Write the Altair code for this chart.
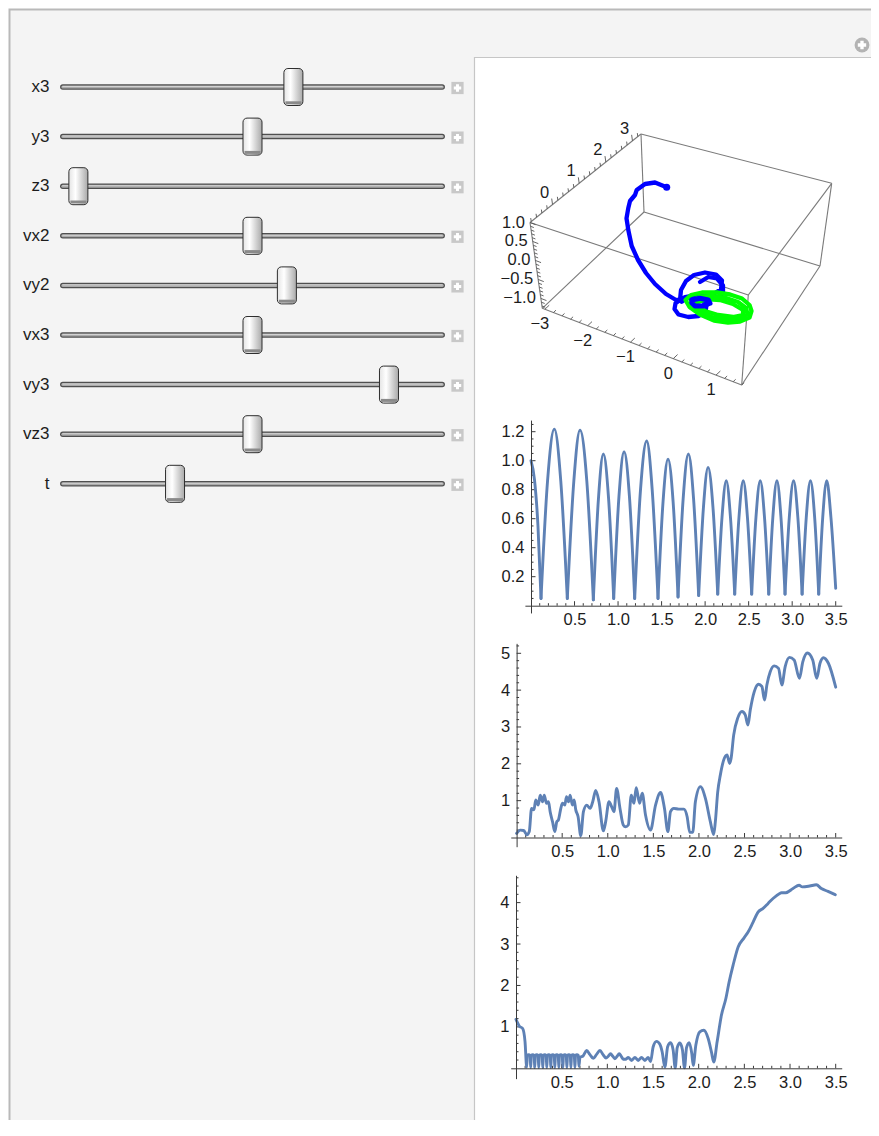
import altair as alt
import pandas as pd

W, H = 863, 1112
M = 8
FONT = "Liberation Sans"
INK = "#1c1c1c"
AXIS_C = "#3a3a3a"
LINE_C = "#5e81b5"

# ---------------- slider panel ----------------
slider_names = ["x3", "y3", "z3", "vx2", "vy2", "vx3", "vy3", "vz3", "t"]
slider_values = [0.613, 0.50, 0.019, 0.50, 0.595, 0.50, 0.877, 0.50, 0.286]

# ---------------- 3-D view (projected positions) ----------------
box_corner_names = ["A", "B", "C", "D", "A2", "B2", "C2", "D2"]
box_corner_u = [50.0, 161.0, 351.7, 268.3, 62.3, 164.0, 340.0, 261.7]
box_corner_v = [112.5, 24.0, 73.3, 185.0, 198.3, 102.0, 156.0, 275.0]
box_edges = [("A", "B"), ("B", "C"), ("C", "D"), ("D", "A"),
             ("A2", "B2"), ("B2", "C2"), ("C2", "D2"), ("D2", "A2"),
             ("A", "A2"), ("B", "B2"), ("C", "C2"), ("D", "D2")]

x3d_span = [-3.06, 1.6]
y3d_span = [-0.846, 3.32]
z3d_span = [1.0, -1.26]
x3d_major = [-3, -2, -1, 0, 1]
y3d_major = [0, 1, 2, 3]
z3d_major = [1.0, 0.5, 0.0, -0.5, -1.0]
x3d_labels = ["\u22123", "\u22122", "\u22121", "0", "1"]
y3d_labels = ["0", "1", "2", "3"]
z3d_labels = ["1.0", "0.5", "0.0", "\u22120.5", "\u22121.0"]

blue_path_u = [186.7, 175.0, 165.0, 156.7, 155.0, 150.0, 148.3, 146.5, 148.3, 151.7, 158.0, 166.0, 175.0, 186.0, 196.0, 200.0]
blue_path_v = [77.3, 72.5, 74.0, 80.0, 85.0, 91.0, 98.0, 108.3, 120.0, 136.0, 150.0, 163.0, 174.0, 184.0, 190.0, 190.0]
blue_loop1_u = [200.0, 201.0, 206.0, 214.0, 225.0, 236.0, 242.0, 241.0, 233.3, 223.3, 213.3, 205.0, 200.0]
blue_loop1_v = [190.0, 180.0, 171.0, 165.0, 162.5, 164.5, 170.5, 179.3, 184.0, 185.5, 185.5, 187.0, 190.0]
blue_loop2_u = [220.0, 228.3, 237.0, 243.0, 243.0, 237.0, 228.3, 220.0]
blue_loop2_v = [172.0, 167.0, 168.5, 175.5, 183.3, 188.0, 189.0, 187.0]
blue_loop3_u = [200.0, 195.5, 194.5, 198.5, 208.3, 218.3, 225.5, 226.5, 221.7, 215.0, 206.7, 201.7]
blue_loop3_v = [190.0, 193.3, 199.0, 204.5, 207.0, 206.0, 202.0, 195.0, 190.0, 187.3, 188.3, 191.7]
blue_blob_u = [211.7, 220.0, 228.3, 230.0, 223.3, 215.0, 211.7]
blue_blob_v = [190.0, 188.3, 190.0, 193.3, 196.0, 196.0, 192.7]

green_ring1_u = [205.5, 211.0, 222.0, 236.7, 250.0, 262.0, 269.5, 271.5, 269.5, 260.0, 248.0, 234.0, 220.0, 209.5, 205.5]
green_ring1_v = [190.0, 185.0, 182.5, 182.5, 184.5, 188.5, 195.0, 201.0, 207.5, 211.5, 212.5, 210.5, 204.5, 197.0, 190.0]
green_ring2_u = [211.0, 220.0, 232.0, 246.0, 258.0, 266.0, 267.5, 260.0, 247.0, 233.0, 220.0, 212.5, 211.0]
green_ring2_v = [191.0, 187.0, 186.0, 188.0, 192.0, 198.0, 204.0, 208.5, 209.5, 207.5, 202.5, 196.5, 191.0]
green_ring3_u = [216.0, 226.0, 240.0, 253.0, 263.0, 263.0, 253.0, 238.0, 225.0, 217.0, 216.0]
green_ring3_v = [193.0, 189.0, 190.0, 194.0, 200.0, 205.0, 207.0, 205.0, 201.0, 197.0, 193.0]

# ---------------- 2-D plots ----------------
chart1_arc_x = [
    [0.0, 0.04, 0.08, 0.115],
    [0.115, 0.19, 0.268, 0.342, 0.417],
    [0.417, 0.492, 0.563, 0.641, 0.716],
    [0.716, 0.775, 0.831, 0.891, 0.950],
    [0.950, 1.010, 1.069, 1.131, 1.191],
    [1.191, 1.258, 1.329, 1.392, 1.459],
    [1.459, 1.517, 1.574, 1.632, 1.689],
    [1.689, 1.748, 1.808, 1.867, 1.926],
    [1.926, 1.981, 2.034, 2.090, 2.145],
    [2.145, 2.194, 2.243, 2.291, 2.340],
    [2.340, 2.389, 2.438, 2.486, 2.535],
    [2.535, 2.584, 2.633, 2.682, 2.731],
    [2.731, 2.778, 2.825, 2.871, 2.918],
    [2.918, 2.967, 3.016, 3.065, 3.114],
    [3.114, 3.162, 3.210, 3.258, 3.305],
    [3.305, 3.351, 3.397, 3.445, 3.500],
]
chart1_arc_y = [
    [1.0, 0.87, 0.55, 0.05],
    [0.05, 0.86, 1.218, 0.86, 0.05],
    [0.05, 0.86, 1.211, 0.86, 0.04],
    [0.04, 0.74, 1.046, 0.74, 0.05],
    [0.05, 0.75, 1.062, 0.75, 0.05],
    [0.05, 0.80, 1.136, 0.80, 0.05],
    [0.05, 0.72, 1.011, 0.72, 0.06],
    [0.06, 0.74, 1.046, 0.74, 0.07],
    [0.07, 0.68, 0.954, 0.68, 0.08],
    [0.08, 0.61, 0.862, 0.61, 0.08],
    [0.08, 0.61, 0.862, 0.61, 0.08],
    [0.08, 0.61, 0.862, 0.61, 0.08],
    [0.08, 0.61, 0.862, 0.61, 0.08],
    [0.08, 0.61, 0.862, 0.61, 0.08],
    [0.08, 0.61, 0.862, 0.61, 0.08],
    [0.08, 0.61, 0.862, 0.61, 0.12],
]

chart2_x = [0.0, 0.04, 0.077, 0.113, 0.139, 0.164, 0.19, 0.21, 0.237, 0.259, 0.284, 0.303, 0.328, 0.35,
            0.368, 0.394, 0.419, 0.441, 0.459, 0.485, 0.503, 0.529, 0.547, 0.569, 0.587, 0.612, 0.631,
            0.649, 0.674, 0.704, 0.733, 0.769, 0.806, 0.835, 0.868, 0.904, 0.952, 0.977, 1.013, 1.05,
            1.068, 1.097, 1.134, 1.17, 1.196, 1.225, 1.258, 1.287, 1.312, 1.349, 1.378, 1.414, 1.469,
            1.524, 1.579, 1.622, 1.659, 1.688, 1.724, 1.779, 1.834, 1.87, 1.899, 1.932, 1.961, 2.016,
            2.071, 2.125, 2.162, 2.18, 2.206, 2.235, 2.271, 2.308, 2.337, 2.352, 2.381, 2.425, 2.472,
            2.508, 2.537, 2.563, 2.607, 2.654, 2.69, 2.72, 2.745, 2.782, 2.825, 2.873, 2.909, 2.946,
            2.993, 3.044, 3.102, 3.139, 3.19, 3.248, 3.292, 3.328, 3.365, 3.42, 3.5]
chart2_y = [0.11, 0.20, 0.19, 0.07, 0.16, 0.79, 0.75, 1.02, 0.88, 1.15, 0.97, 1.15, 0.93, 0.97,
            0.70, 0.43, 0.16, 0.43, 0.48, 0.79, 0.93, 0.88, 1.11, 0.97, 1.15, 0.88, 1.02,
            0.75, 0.57, 0.05, 0.70, 0.88, 0.79, 0.97, 1.28, 0.97, 0.18, 0.43, 0.97, 0.79,
            0.70, 1.33, 0.79, 0.34, 0.29, 0.34, 1.15, 0.93, 1.35, 0.93, 1.20, 0.61, 0.20,
            0.88, 1.22, 0.79, 0.16, 0.70, 0.79, 0.77, 0.77, 0.57, 0.14, 0.14, 0.97, 1.38,
            1.06, 0.43, 0.08, 0.43, 1.24, 1.70, 2.10, 2.24, 2.01, 2.14, 2.78, 3.24, 3.42,
            3.33, 3.05, 3.46, 3.96, 4.16, 4.10, 3.73, 4.14, 4.50, 4.66, 4.59, 4.14, 4.64,
            4.89, 4.82, 4.32, 4.77, 5.01, 4.82, 4.32, 4.73, 4.88, 4.73, 4.08]

chart3_x = [0.0, 0.036, 0.073, 0.099, 0.117,
            0.124, 0.139, 0.154, 0.161, 0.168, 0.183, 0.198, 0.205, 0.212, 0.227, 0.242, 0.249,
            0.256, 0.271, 0.286, 0.293, 0.300, 0.315, 0.330, 0.337, 0.344, 0.359, 0.374, 0.381,
            0.388, 0.403, 0.418, 0.425, 0.432, 0.447, 0.462, 0.469, 0.476, 0.491, 0.506, 0.513,
            0.520, 0.535, 0.550, 0.557, 0.564, 0.579, 0.594, 0.601, 0.608, 0.623, 0.638, 0.645,
            0.652, 0.667, 0.682, 0.689,
            0.70, 0.735, 0.773, 0.81, 0.846, 0.88, 0.919, 0.953, 0.985, 1.01, 1.035, 1.06, 1.083,
            1.107, 1.13, 1.152, 1.174, 1.2, 1.229, 1.265, 1.302, 1.338, 1.374, 1.411, 1.447, 1.473,
            1.502, 1.538, 1.575, 1.6, 1.63, 1.66, 1.692, 1.72, 1.743, 1.765, 1.794, 1.822, 1.845,
            1.867, 1.896, 1.925, 1.94, 1.969, 2.012, 2.056, 2.104, 2.14, 2.165, 2.202, 2.249, 2.297,
            2.333, 2.377, 2.432, 2.497, 2.541, 2.596, 2.65, 2.705, 2.76, 2.814, 2.887, 2.906, 2.953,
            3.033, 3.099, 3.135, 3.215, 3.288, 3.343, 3.416, 3.496]
chart3_y = [1.18, 1.02, 0.96, 0.64, 0.03,
            0.31, 0.33, 0.31, 0.02, 0.31, 0.33, 0.31, 0.02, 0.31, 0.33, 0.31, 0.02,
            0.31, 0.33, 0.31, 0.02, 0.31, 0.33, 0.31, 0.02, 0.31, 0.33, 0.31, 0.02,
            0.31, 0.33, 0.31, 0.02, 0.31, 0.33, 0.31, 0.02, 0.31, 0.33, 0.31, 0.02,
            0.31, 0.33, 0.31, 0.02, 0.31, 0.33, 0.31, 0.02, 0.31, 0.33, 0.31, 0.02,
            0.31, 0.33, 0.31, 0.05,
            0.26, 0.30, 0.43, 0.33, 0.24, 0.33, 0.43, 0.33, 0.25, 0.29, 0.35, 0.29, 0.23,
            0.29, 0.35, 0.29, 0.22, 0.22, 0.26, 0.19, 0.26, 0.19, 0.26, 0.19, 0.26, 0.16,
            0.52, 0.65, 0.58, 0.40, 0.03, 0.52, 0.62, 0.45, 0.01, 0.50, 0.61, 0.45, 0.01,
            0.50, 0.62, 0.35, 0.07, 0.56, 0.88, 0.92, 0.72, 0.39, 0.15, 0.64, 1.28, 1.68,
            2.08, 2.49, 2.93, 3.15, 3.29, 3.53, 3.77, 3.86, 3.98, 4.10, 4.22, 4.24, 4.24,
            4.34, 4.42, 4.38, 4.40, 4.43, 4.34, 4.27, 4.19]


# ---------------- helpers ----------------
def px(p):
    return p - M


def qscale(dom, rng):
    return alt.Scale(domain=[float(d) for d in dom], range=[float(r) for r in rng], nice=False, zero=False)


def QX(field, sc, axis=None):
    return alt.X(field, type="quantitative", scale=sc, axis=axis, title=None)


def QY(field, sc, axis=None):
    return alt.Y(field, type="quantitative", scale=sc, axis=axis, title=None)


layers = []
one = pd.DataFrame({"k": [0]})

# ---------------- panels ----------------
layers.append(alt.Chart(one).mark_rect(fill="#f4f4f4", stroke="#b9b9b9", strokeWidth=2).encode(
    x=alt.value(px(9.5)), x2=alt.value(W + 20), y=alt.value(px(9.5)), y2=alt.value(H + 20)))
layers.append(alt.Chart(one).mark_rect(fill="#ffffff", stroke="#c6c6c6", strokeWidth=1.2).encode(
    x=alt.value(px(474.5)), x2=alt.value(W + 20), y=alt.value(px(57.5)), y2=alt.value(H + 20)))

# corner "+" icon
layers.append(alt.Chart(one).mark_circle(size=220, color="#b3b3b3", opacity=1).encode(
    x=alt.value(px(862)), y=alt.value(px(45))))
layers.append(alt.Chart(one).mark_point(shape="cross", filled=True, size=70, color="#ffffff", opacity=1).encode(
    x=alt.value(px(862)), y=alt.value(px(45))))

# ---------------- sliders ----------------
sdf = pd.DataFrame({"name": slider_names, "value": slider_values,
                    "row": list(range(len(slider_names))), "lo": -0.024, "hi": 1.024})
SX = qscale([0, 1], [px(71.5), px(433.5)])
SY = qscale([0, 8], [px(87), px(87 + 49.6 * 8)])

layers.append(alt.Chart(sdf).mark_rule(color="#4f4f4f", strokeWidth=5.5, strokeCap="round").encode(
    x=QX("lo", SX), x2="hi", y=QY("row", SY)))
layers.append(alt.Chart(sdf).mark_rule(color="#ababab", strokeWidth=3, strokeCap="round").encode(
    x=QX("lo", SX), x2="hi", y=QY("row", SY)))
layers.append(alt.Chart(sdf).mark_rule(color="#d2d2d2", strokeWidth=1, strokeCap="round", yOffset=-0.5).encode(
    x=QX("lo", SX), x2="hi", y=QY("row", SY)))

thumb_fill = alt.LinearGradient(
    gradient="linear", x1=0, x2=1, y1=0, y2=0,
    stops=[alt.GradientStop(offset=0, color="#e4e4e4"),
           alt.GradientStop(offset=0.35, color="#ffffff"),
           alt.GradientStop(offset=1, color="#a9a9a9")])
layers.append(alt.Chart(sdf).mark_rect(
    xOffset=-9.5, x2Offset=9.5, yOffset=-18.5, y2Offset=18.5, cornerRadius=4,
    fill=thumb_fill, stroke="#2e2e2e", strokeWidth=1).encode(
    x=QX("value", SX), x2="value", y=QY("row", SY), y2="row"))
layers.append(alt.Chart(sdf).mark_rule(color="#8a8a8a", strokeWidth=3, xOffset=-8, x2Offset=8,
                                       yOffset=15.8, y2Offset=15.8).encode(
    x=QX("value", SX), x2="value", y=QY("row", SY)))

layers.append(alt.Chart(sdf).mark_text(align="right", baseline="middle", font=FONT, fontSize=17,
                                       color=INK).encode(
    x=alt.value(px(49.5)), y=QY("row", SY), text="name:N"))
layers.append(alt.Chart(sdf).mark_square(size=150, color="#c8c8c8", opacity=1, yOffset=1).encode(
    x=alt.value(px(457.5)), y=QY("row", SY)))
layers.append(alt.Chart(sdf).mark_point(shape="cross", filled=True, size=55, color="#ffffff", opacity=1,
                                        yOffset=1).encode(
    x=alt.value(px(457.5)), y=QY("row", SY)))

# ---------------- 3-D view ----------------
PX3 = qscale([0, 380], [px(480), px(860)])
PY3 = qscale([0, 300], [px(110), px(410)])
corner = {n: (u, v) for n, u, v in zip(box_corner_names, box_corner_u, box_corner_v)}

edge_df = pd.DataFrame([{"u": corner[a][0], "v": corner[a][1], "u2": corner[b][0], "v2": corner[b][1]}
                        for a, b in box_edges])
layers.append(alt.Chart(edge_df).mark_rule(color="#7a7a7a", strokeWidth=1.1).encode(
    x=QX("u", PX3), y=QY("v", PY3), x2="u2", y2="v2"))


def lerp(p, q, t):
    return (p[0] + t * (q[0] - p[0]), p[1] + t * (q[1] - p[1]))


def minor_vals(start, step, n, majors):
    out = []
    for k in range(n):
        v = round(start + step * k, 3)
        if all(abs(v - m) > 1e-6 for m in majors):
            out.append(v)
    return out


axes3d = [
    ("A", "B", y3d_span, y3d_major, y3d_labels, minor_vals(-0.8, 0.2, 21, y3d_major), (-0.142, -0.990), (-8, -12), "center"),
    ("A", "A2", z3d_span, z3d_major, z3d_labels, minor_vals(-1.2, 0.1, 23, z3d_major), (0.933, 0.359), (-5, 0), "right"),
    ("A2", "D2", x3d_span, x3d_major, x3d_labels, minor_vals(-3.0, 0.2, 24, x3d_major), (0.726, -0.688), (-5, 15), "center"),
]
tick_rows, lab_rows = [], []
for a, b, span, majors, labs, minors, d, off, al in axes3d:
    p, q = corner[a], corner[b]
    for vals, ln in ((majors, 6.0), (minors, 3.5)):
        for v in vals:
            t = (v - span[0]) / (span[1] - span[0])
            if t < 0 or t > 1:
                continue
            s = lerp(p, q, t)
            tick_rows.append({"u": s[0], "v": s[1], "u2": s[0] + d[0] * ln, "v2": s[1] + d[1] * ln})
    for v, txt in zip(majors, labs):
        t = (v - span[0]) / (span[1] - span[0])
        s = lerp(p, q, t)
        lab_rows.append({"u": s[0] + off[0], "v": s[1] + off[1], "txt": txt, "al": al})

layers.append(alt.Chart(pd.DataFrame(tick_rows)).mark_rule(color="#555555", strokeWidth=0.9).encode(
    x=QX("u", PX3), y=QY("v", PY3), x2="u2", y2="v2"))
lab_df = pd.DataFrame(lab_rows)
layers.append(alt.Chart(lab_df[lab_df.al == "center"]).mark_text(
    align="center", baseline="middle", font=FONT, fontSize=16.5, color=INK).encode(
    x=QX("u", PX3), y=QY("v", PY3), text="txt:N"))
layers.append(alt.Chart(lab_df[lab_df.al == "right"]).mark_text(
    align="right", baseline="middle", font=FONT, fontSize=16.5, color=INK).encode(
    x=QX("u", PX3), y=QY("v", PY3), text="txt:N"))


def path_df(parts):
    rows = []
    for sid, (us, vs) in enumerate(parts):
        for i, (u, v) in enumerate(zip(us, vs)):
            rows.append({"u": u, "v": v, "seg": sid, "i": i})
    return pd.DataFrame(rows)


blue_df = path_df([(blue_path_u, blue_path_v), (blue_loop1_u, blue_loop1_v),
                   (blue_loop2_u, blue_loop2_v), (blue_loop3_u, blue_loop3_v)])
green_df = path_df([(green_ring1_u, green_ring1_v), (green_ring2_u, green_ring2_v),
                    (green_ring3_u, green_ring3_v)])
blob_df = path_df([(blue_blob_u, blue_blob_v)])

layers.append(alt.Chart(blue_df).mark_line(color="#0000ff", strokeWidth=4.3, strokeJoin="round",
                                           strokeCap="round").encode(
    x=QX("u", PX3), y=QY("v", PY3), detail="seg:N", order="i:Q"))
layers.append(alt.Chart(green_df).mark_line(color="#00ff00", strokeWidth=4.3, strokeJoin="round",
                                            strokeCap="round").encode(
    x=QX("u", PX3), y=QY("v", PY3), detail="seg:N", order="i:Q"))
layers.append(alt.Chart(blob_df).mark_line(color="#0000ff", strokeWidth=5, strokeJoin="round",
                                           strokeCap="round").encode(
    x=QX("u", PX3), y=QY("v", PY3), detail="seg:N", order="i:Q"))
layers.append(alt.Chart(blue_df[blue_df.i == 0].head(1)).mark_circle(size=50, color="#0000ff", opacity=1).encode(
    x=QX("u", PX3), y=QY("v", PY3)))


# ---------------- 2-D plots ----------------
def plot_layers(df, spec, interp, xfmt, yfmt, xlabels, ylabels, xminor, yminor):
    ox, oy, kx, ky = spec["ox"], spec["oy"], spec["kx"], spec["ky"]
    xd, yd = spec["xdom"], spec["ydom"]
    XS = qscale(xd, [px(ox + kx * xd[0]), px(ox + kx * xd[1])])
    YS = qscale(yd, [px(oy - ky * yd[0]), px(oy - ky * yd[1])])
    common = dict(zindex=1, grid=False, ticks=False, domainColor=AXIS_C, domainWidth=1,
                  labelFont=FONT, labelFontSize=16.5, labelColor=INK, labelFlush=False,
                  labelOverlap=False, labelBound=False)
    xaxis = alt.Axis(orient="bottom", offset=px(oy) - H, values=xlabels, format=xfmt,
                     labelPadding=6, **common)
    yaxis = alt.Axis(orient="left", offset=-px(ox), values=ylabels, format=yfmt,
                     labelPadding=7, **common)
    out = []
    for vals, ln in ((xlabels, 4.5), (xminor, 2.5)):
        tdf = pd.DataFrame({"v": vals, "zero": 0.0})
        out.append(alt.Chart(tdf).mark_rule(color=AXIS_C, strokeWidth=1, y2Offset=-ln).encode(
            x=QX("v", XS), y=QY("zero", YS), y2="zero"))
    for vals, ln in ((ylabels, 4.5), (yminor, 2.5)):
        tdf = pd.DataFrame({"v": vals, "zero": 0.0})
        out.append(alt.Chart(tdf).mark_rule(color=AXIS_C, strokeWidth=1, x2Offset=ln).encode(
            y=QY("v", YS), x=QX("zero", XS), x2="zero"))
    out.append(alt.Chart(df).mark_line(color=LINE_C, strokeWidth=2.9, interpolate=interp,
                                       strokeJoin="round", strokeCap="round").encode(
        x=QX("x", XS, xaxis), y=QY("y", YS, yaxis), detail="seg:N", order="i:Q"))
    return out


x_major = [0.5, 1.0, 1.5, 2.0, 2.5, 3.0, 3.5]
x_minor = minor_vals(0.1, 0.1, 35, x_major)

rows = []
for sid, (xs, ys) in enumerate(zip(chart1_arc_x, chart1_arc_y)):
    for i, (a, b) in enumerate(zip(xs, ys)):
        rows.append({"x": a, "y": b, "seg": sid, "i": i})
df1 = pd.DataFrame(rows)
df2 = pd.DataFrame({"x": chart2_x, "y": chart2_y, "seg": 0, "i": range(len(chart2_x))})
df3 = pd.DataFrame({"x": chart3_x, "y": chart3_y, "seg": 0, "i": range(len(chart3_x))})

spec1 = dict(ox=531.0, oy=605.7, kx=87.06, ky=145.0, xdom=[-0.07, 3.57], ydom=[-0.05, 1.28])
spec2 = dict(ox=516.6, oy=837.5, kx=91.17, ky=36.84, xdom=[-0.064, 3.566], ydom=[-0.25, 5.27])
spec3 = dict(ox=516.0, oy=1068.3, kx=91.34, ky=41.42, xdom=[-0.058, 3.566], ydom=[-0.25, 4.66])

y1_major = [0.2, 0.4, 0.6, 0.8, 1.0, 1.2]
layers += plot_layers(df1, spec1, "monotone", ".1f", ".1f", x_major, y1_major,
                      x_minor, minor_vals(0.05, 0.05, 25, y1_major))
y2_major = [1, 2, 3, 4, 5]
layers += plot_layers(df2, spec2, "monotone", ".1f", "d", x_major, y2_major,
                      x_minor, minor_vals(0.2, 0.2, 26, y2_major))
y3_major = [1, 2, 3, 4]
layers += plot_layers(df3, spec3, "monotone", ".1f", "d", x_major, y3_major,
                      x_minor, minor_vals(0.2, 0.2, 23, y3_major))

chart = alt.layer(*layers).resolve_scale(x="independent", y="independent").properties(
    width=W, height=H, autosize=alt.AutoSizeParams(type="none"), padding=0, background="#ffffff"
).configure_view(stroke=None)

chart.save("out.html", embed_options={"renderer": "svg", "actions": False})
